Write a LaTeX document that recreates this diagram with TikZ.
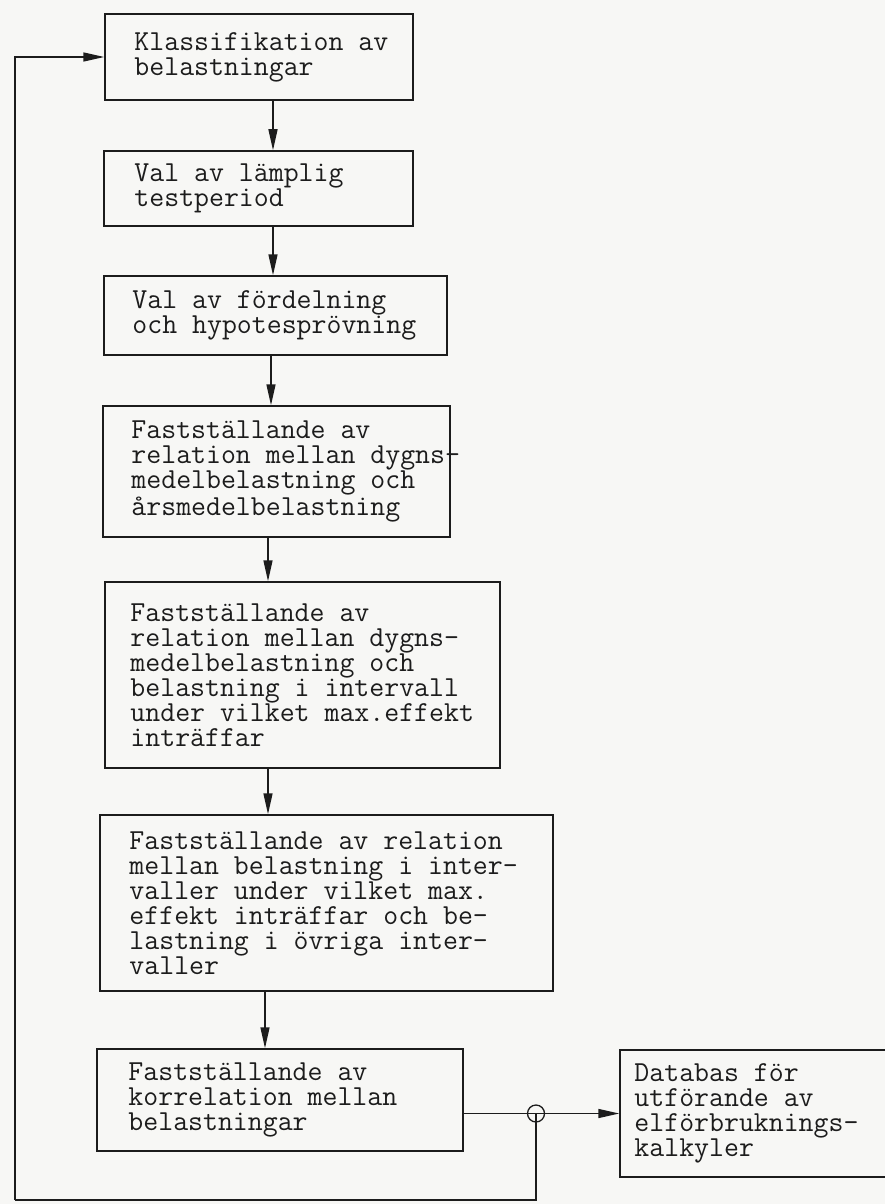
\documentclass[tikz,border=0pt]{standalone}
\usepackage{fontspec}
\definecolor{paper}{RGB}{247,247,245}
\definecolor{ink}{RGB}{28,28,28}
\usetikzlibrary{arrows.meta}
\begin{document}
\begin{tikzpicture}[x=1pt,y=1pt,
  stepbox/.style={draw=ink, line width=1.5pt, rectangle, inner sep=0pt},
  txt/.style={anchor=west, align=left, inner sep=0pt, text=ink,
    font=\ttfamily\fontsize{29}{25}\selectfont},
  wire/.style={draw=ink, line width=1.5pt},
  arrow/.style={wire, -{Triangle[length=21pt,width=9pt]}},
  junction/.style={circle, draw=ink, line width=1.3pt, minimum size=17pt, inner sep=0pt}]
\clip (0,0) rectangle (885,-1204);
\fill[paper] (0,0) rectangle (885,-1204);

% process chain
\node[stepbox, minimum width=308pt, minimum height=86pt]  (b1) at (259,-57) {};
\node[txt] at ([xshift=30pt]b1.west) {Klassifikation av\\belastningar};

\node[stepbox, minimum width=309pt, minimum height=75pt]  (b2) at (258.5,-188.5) {};
\node[txt] at ([xshift=31pt]b2.west) {Val av lämplig\\testperiod};

\node[stepbox, minimum width=343pt, minimum height=79pt]  (b3) at (275.5,-315.5) {};
\node[txt] at ([xshift=29pt]b3.west) {Val av fördelning\\och hypotesprövning};

\node[stepbox, minimum width=347pt, minimum height=131pt] (b4) at (276.5,-471.5) {};
\node[txt] at ([xshift=29pt]b4.west) {Fastställande av\\relation mellan dygns-\\medelbelastning och\\årsmedelbelastning};

\node[stepbox, minimum width=395pt, minimum height=186pt] (b5) at (302.5,-675) {};
\node[txt] at ([xshift=26pt]b5.west) {Fastställande av\\relation mellan dygns-\\medelbelastning och\\belastning i intervall\\under vilket max.effekt\\inträffar};

\node[stepbox, minimum width=453pt, minimum height=176pt] (b6) at (326.5,-903) {};
\node[txt] at ([xshift=30pt]b6.west) {Fastställande av relation\\mellan belastning i inter-\\valler under vilket max.\\effekt inträffar och be-\\lastning i övriga inter-\\valler};

\node[stepbox, minimum width=366pt, minimum height=102pt] (b7) at (280,-1100) {};
\node[txt] at ([xshift=32pt]b7.west) {Fastställande av\\korrelation mellan\\belastningar};

\node[stepbox, minimum width=280pt, minimum height=127pt] (db) at (760,-1113.5) {};
\node[txt] at ([xshift=15pt]db.west) {Databas för\\utförande av\\elförbruknings-\\kalkyler};

% vertical flow
\coordinate (s1) at (273,0);
\coordinate (s2) at (271,0);
\coordinate (s3) at (268,0);
\coordinate (s4) at (265,0);
\draw[arrow] (b1.south -| s1) -- (b2.north -| s1);
\draw[arrow] (b2.south -| s1) -- (b3.north -| s1);
\draw[arrow] (b3.south -| s2) -- (b4.north -| s2);
\draw[arrow] (b4.south -| s3) -- (b5.north -| s3);
\draw[arrow] (b5.south -| s3) -- (b6.north -| s3);
\draw[arrow] (b6.south -| s4) -- (b7.north -| s4);

% output and feedback branch
\node[junction] (j) at (536,-1113.5) {};
\draw[arrow] (b7.east |- db.west) -- (db.west);
\coordinate (c1) at (536,-1200);
\coordinate (c2) at (15,-1200);
\draw[wire] (j.center) -- (c1) -- (c2);
\draw[arrow] (c2) |- (b1.west);
\end{tikzpicture}
\end{document}
